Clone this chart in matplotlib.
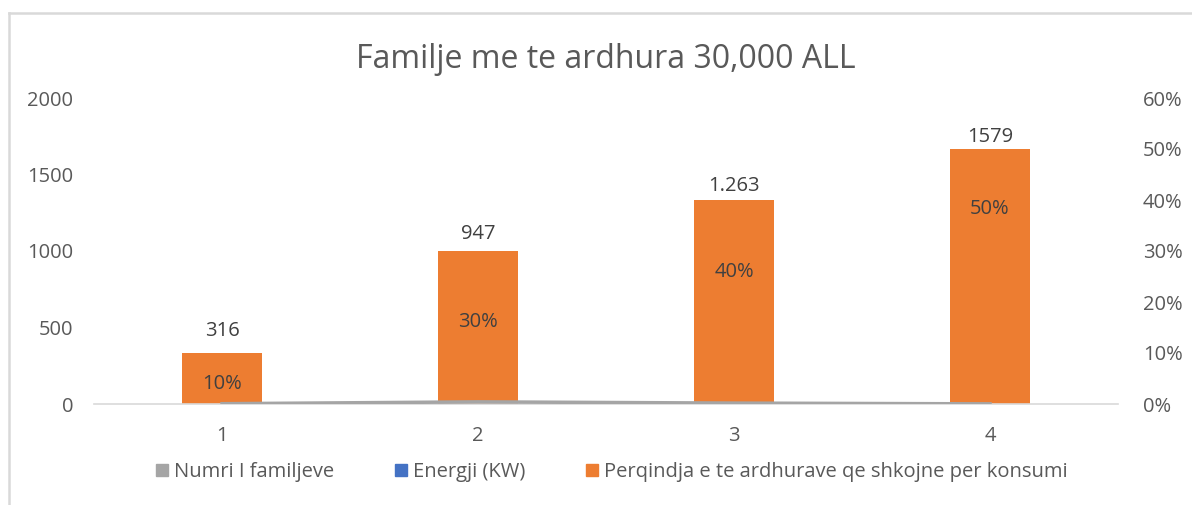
import matplotlib.pyplot as plt
from matplotlib.lines import Line2D
from matplotlib.patches import Patch

plt.rcParams['font.family'] = ['Open Sans', 'DejaVu Sans']

# Data
categories = ['1', '2', '3', '4']
numri_familjeve = [2, 14, 6, 1]
energji_kw = [316, 947, 1263, 1579]
energji_labels = ['316', '947', '1.263', '1579']
perqindja = [0.10, 0.30, 0.40, 0.50]
perqindja_labels = ['10%', '30%', '40%', '50%']
pct_label_drop = [31, 71, 72, 60]  # label distance below bar top, in px

text_col = '#595959'
orange = '#ED7D31'
gray = '#A5A5A5'
blue = '#4472C4'

fig = plt.figure(figsize=(11.92, 5.05), dpi=100)

# light gray chart border (left and top)
fig.add_artist(Line2D([9 / 1192, 9 / 1192], [0, 1 - 13 / 505], color='#D9D9D9', lw=1.8))
fig.add_artist(Line2D([9 / 1192, 1], [1 - 13 / 505, 1 - 13 / 505], color='#D9D9D9', lw=1.8))

ax = fig.add_axes([94 / 1192, 101 / 505, 1024 / 1192, 306 / 505])
ax2 = ax.twinx()

x = list(range(len(categories)))

# bars on secondary axis
ax2.bar(x, perqindja, width=0.31, color=orange, zorder=2)
for i, (v, lab) in enumerate(zip(perqindja, perqindja_labels)):
    ax2.annotate(lab, (x[i], v), xytext=(0, -pct_label_drop[i] * 0.72),
                 textcoords='offset points', ha='center', va='center',
                 fontsize=14.5, color='#404040')

# primary axis series
ax.plot(x, numri_familjeve, color=gray, lw=2.5, zorder=3)
ax.plot(x, energji_kw, color=blue, lw=0, zorder=3)
for i, (v, lab) in enumerate(zip(energji_kw, energji_labels)):
    ax.annotate(lab, (x[i], v), xytext=(0, 18), textcoords='offset points',
                ha='center', va='center', fontsize=14.5, color='#404040')

ax.set_zorder(ax2.get_zorder() + 1)
ax.patch.set_visible(False)

ax.set_xlim(-0.5, 3.5)
ax.set_ylim(0, 2000)
ax.set_yticks([0, 500, 1000, 1500, 2000])
ax2.set_ylim(0, 0.6)
ax2.set_yticks([0, 0.1, 0.2, 0.3, 0.4, 0.5, 0.6])
ax2.set_yticklabels(['0%', '10%', '20%', '30%', '40%', '50%', '60%'])
ax.set_xticks(x)
ax.set_xticklabels(categories)

for a in (ax, ax2):
    for s in a.spines.values():
        s.set_visible(False)
    a.tick_params(length=0, labelsize=14.5, labelcolor=text_col)
ax.spines['bottom'].set_visible(True)
ax.spines['bottom'].set_color('#D9D9D9')
ax.spines['bottom'].set_linewidth(1.2)
ax.tick_params(axis='y', pad=15)
ax2.tick_params(axis='y', pad=18)
ax.tick_params(axis='x', pad=16)

fig.text(606 / 1192, 1 - 60 / 505, 'Familje me te ardhura 30,000 ALL',
         ha='center', va='center', fontsize=23, color=text_col)

handles = [Patch(color=gray), Patch(color=blue), Patch(color=orange)]
labels = ['Numri I familjeve', 'Energji (KW)', 'Perqindja e te ardhurave qe shkojne per konsumi']
fig.legend(handles, labels, loc='center', bbox_to_anchor=(612 / 1192, 1 - 472 / 505),
           ncol=3, frameon=False, fontsize=14.5, labelcolor=text_col,
           handlelength=0.6, handleheight=0.6, handletextpad=0.3, columnspacing=3.0)

fig.savefig('out.png', dpi=100)
